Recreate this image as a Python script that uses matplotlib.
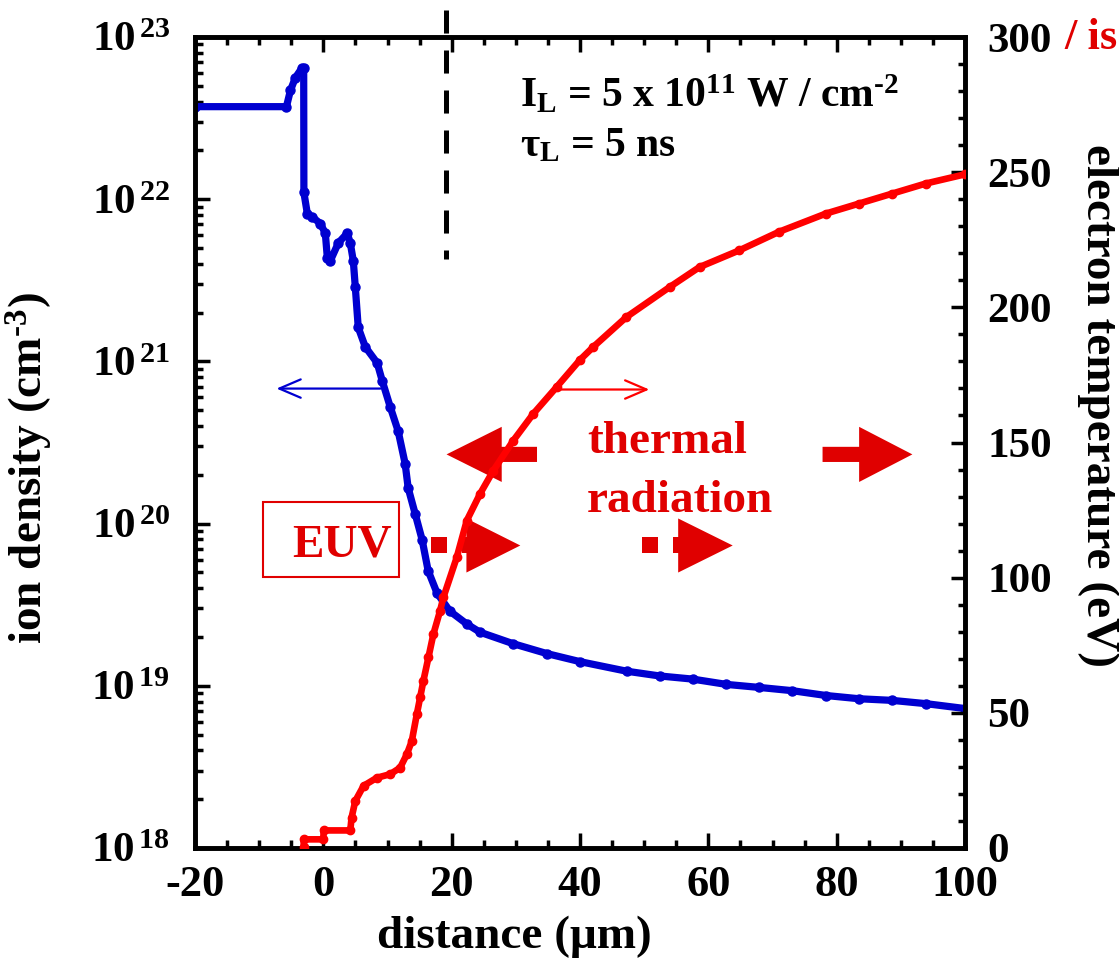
import numpy as np
import matplotlib
matplotlib.use("Agg")
import matplotlib.pyplot as plt
from matplotlib.patches import Polygon, Rectangle
from matplotlib.ticker import FixedLocator, MultipleLocator, LogLocator, NullFormatter

plt.rcParams['font.family'] = ['Liberation Serif', 'DejaVu Serif']
plt.rcParams['font.weight'] = 'bold'
plt.rcParams['mathtext.fontset'] = 'custom'
plt.rcParams['mathtext.rm'] = 'Liberation Serif:bold'
plt.rcParams['mathtext.it'] = 'Liberation Serif:bold'
plt.rcParams['mathtext.bf'] = 'Liberation Serif:bold'
plt.rcParams['lines.scale_dashes'] = False

# ion density (cm^-3) vs distance (um)
dist_ion = [-20, -5.75, -5.13, -4.35, -3.31, -3.06, -3.03, -2.49, -1.71, -0.47,
            0.31, 0.62, 1.09, 2.33, 3.73, 4.20, 4.67, 4.98, 5.44, 6.53,
            8.40, 9.18, 10.42, 11.66, 12.75, 13.22, 14.31, 15.40, 16.33, 17.73,
            19.75, 22.39, 24.42, 29.55, 34.84, 39.97, 47.28, 52.41, 57.54, 62.83,
            67.96, 73.09, 78.38, 83.51, 88.65, 93.93, 100]
ion_density = [3.72e22, 3.72e22, 4.68e22, 5.62e22, 6.46e22, 6.46e22, 1.10e22, 8.13e21, 7.76e21, 7.08e21,
               6.17e21, 4.37e21, 4.17e21, 5.37e21, 6.17e21, 5.37e21, 4.17e21, 2.88e21, 1.62e21, 1.23e21,
               9.77e20, 7.59e20, 5.25e20, 3.72e20, 2.34e20, 1.66e20, 1.15e20, 7.94e19, 5.13e19, 3.72e19,
               2.88e19, 2.40e19, 2.14e19, 1.82e19, 1.58e19, 1.41e19, 1.23e19, 1.15e19, 1.10e19, 1.02e19,
               9.77e18, 9.33e18, 8.71e18, 8.32e18, 8.13e18, 7.76e18, 7.24e18]

# electron temperature (eV) vs distance (um)
dist_te = [-3.06, -3.06, 0.0, 0.05, 4.2, 4.4, 4.98, 6.27, 8.35, 10.42,
           11.97, 13.02, 13.79, 14.57, 15.09, 15.6, 16.38, 17.15, 18.2, 18.71,
           20.79, 22.35, 24.42, 26.49, 29.6, 32.71, 36.35, 39.97, 42.04, 47.23,
           53.97, 58.63, 64.85, 71.07, 78.34, 83.51, 88.69, 93.89, 100]
temp_e = [0.5, 3.2, 3.2, 6.5, 6.5, 11.2, 17.4, 23.0, 26.0, 27.3,
          29.7, 34.7, 39.6, 49.5, 55.7, 61.9, 70.5, 79.1, 87.8, 92.7,
          107.5, 121.1, 131.0, 139.6, 150.7, 160.6, 170.5, 180.5, 185.3, 196.4,
          207.5, 214.9, 221.1, 228.0, 234.7, 238.4, 242.1, 245.8, 249.2]

x_ticks = [-20, 0, 20, 40, 60, 80, 100]
y_left_ticks = [1e18, 1e19, 1e20, 1e21, 1e22, 1e23]
y_right_ticks = [0, 50, 100, 150, 200, 250, 300]

BLUE = '#0000d0'
RED = '#ff0000'
DARKRED = '#e00000'

fig = plt.figure(figsize=(11.19, 9.58), dpi=100)
ax = fig.add_axes([195 / 1119, 1 - 848 / 958, 770 / 1119, 811 / 958])
ax2 = ax.twinx()

ax.plot(dist_ion, ion_density, color=BLUE, lw=5.2, marker='o', ms=6.5, solid_joinstyle='round')
ax.set_yscale('log')
ax.set_xlim(-20, 100)
ax.set_ylim(1e18, 1e23)

ax2.plot(dist_te, temp_e, color=RED, lw=4.8, marker='o', ms=6, zorder=3, solid_joinstyle='round')
ax2.set_ylim(0, 300)

# dashed position marker, running above the frame
ax.plot([19.08, 19.08], [10 ** (23 + 37 / 162), 10 ** 21.63], color='black', lw=3.6,
        linestyle=(21.6, (16.6, 12.2)), clip_on=False, dash_capstyle='butt')

# axes styling
for a in (ax, ax2):
    for s in a.spines.values():
        s.set_linewidth(3.3)

ax.xaxis.set_major_locator(FixedLocator(x_ticks))
ax.xaxis.set_minor_locator(MultipleLocator(5))
ax.set_xticklabels([str(v) for v in x_ticks])
ax.yaxis.set_major_locator(FixedLocator(y_left_ticks))
ax.yaxis.set_minor_locator(LogLocator(base=10, subs=np.arange(2, 10)))
ax.yaxis.set_minor_formatter(NullFormatter())
ax.set_yticklabels([r'$10^{\,%d}$' % int(np.log10(v)) for v in y_left_ticks])

ax.tick_params(axis='x', which='both', direction='in', top=True, bottom=True, width=2.5)
ax.tick_params(axis='x', which='major', length=11, labelsize=32, pad=12)
ax.tick_params(axis='x', which='minor', length=5.5)
ax.tick_params(axis='y', which='both', direction='in', left=True, right=False, width=2.5)
ax.tick_params(axis='y', which='major', length=11, labelsize=31, pad=18)
ax.tick_params(axis='y', which='minor', length=5.5)

ax2.yaxis.set_major_locator(FixedLocator(y_right_ticks))
ax2.yaxis.set_minor_locator(MultipleLocator(10))
ax2.set_yticklabels([str(v) for v in y_right_ticks])
ax2.tick_params(axis='y', which='both', direction='in', right=True, left=False, width=2.5)
ax2.tick_params(axis='y', which='major', length=10, labelsize=31, pad=16)
ax2.tick_params(axis='y', which='minor', length=5)

# axis titles
fig.text(514 / 1119, 1 - 937 / 958, 'distance (μm)', ha='center', va='center', fontsize=34)
fig.text(30 / 1119, 1 - 468 / 958, r'ion density (cm$^{\text{-}3}$)', ha='center', va='center',
         rotation=90, fontsize=34)
fig.text(1098 / 1119, 1 - 406 / 958, 'electron temperature (eV)', ha='center', va='center',
         rotation=270, fontsize=34)
fig.text(1064 / 1119, 1 - 49 / 958, '/ is', ha='left', va='baseline', fontsize=32, color=DARKRED)

# laser conditions
ax2.text(30.6, 274, r'I$_{L}$ = 5 x 10$^{11}$ W / cm$^{\text{-}2}$', ha='left', va='baseline', fontsize=30)
ax2.text(30.6, 256, 'τ$_{L}$ = 5 ns', ha='left', va='baseline', fontsize=30)

# axis-direction arrows
ax.annotate('', xy=(-7.3, 6.8e20), xytext=(8.9, 6.8e20),
            arrowprops=dict(arrowstyle='->,head_length=0.7,head_width=0.3', color=BLUE, lw=1.6,
                            mutation_scale=22, shrinkA=0, shrinkB=0))
ax2.annotate('', xy=(50.8, 169.6), xytext=(36.2, 169.6),
             arrowprops=dict(arrowstyle='->,head_length=0.7,head_width=0.3', color=RED, lw=1.6,
                             mutation_scale=22, shrinkA=0, shrinkB=0))


def fat_arrow(axis, x_tail, x_tip, y, head_len, head_half, shaft_half):
    d = np.sign(x_tip - x_tail)
    xb = x_tip - d * head_len
    verts = [(x_tail, y - shaft_half), (xb, y - shaft_half), (xb, y - head_half), (x_tip, y),
             (xb, y + head_half), (xb, y + shaft_half), (x_tail, y + shaft_half)]
    axis.add_patch(Polygon(verts, closed=True, facecolor=DARKRED, edgecolor='none', zorder=1))


def dashed_arrow(axis, x_start, x_tip, y, head_len, head_half, shaft_half, dash=2.5, gap=2.4):
    xb = x_tip - head_len
    x = x_start
    while x < xb:
        axis.add_patch(Rectangle((x, y - shaft_half), min(dash, xb - x + 0.2), 2 * shaft_half,
                                 facecolor=DARKRED, edgecolor='none', zorder=1))
        x += dash + gap
    axis.add_patch(Polygon([(xb, y - head_half), (x_tip, y), (xb, y + head_half)], closed=True,
                           facecolor=DARKRED, edgecolor='none', zorder=1))


fat_arrow(ax2, 33.3, 19.2, 145.6, 8.6, 10.2, 2.8)
fat_arrow(ax2, 77.8, 91.8, 145.6, 8.3, 10.2, 2.8)
dashed_arrow(ax2, 16.75, 30.7, 111.9, 8.4, 10.0, 2.96)
dashed_arrow(ax2, 49.6, 63.8, 111.9, 8.5, 10.0, 2.96)

ax2.text(41.06, 146.3, 'thermal', ha='left', va='baseline', fontsize=34, color=DARKRED)
ax2.text(41.06, 124.4, 'radiation', ha='left', va='baseline', fontsize=34, color=DARKRED)

ax2.add_patch(Rectangle((-9.33, 100.4), 21.15, 27.7, facecolor='none', edgecolor=DARKRED, lw=1.5, zorder=1))
ax2.text(10.7, 107.8, 'EUV', ha='right', va='baseline', fontsize=34, color=DARKRED)

fig.savefig('out.png', dpi=100)
